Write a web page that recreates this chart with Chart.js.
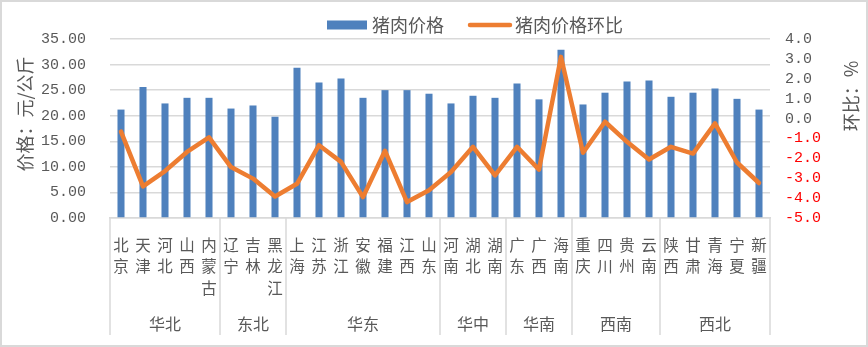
<!DOCTYPE html>
<html lang="zh-CN">

<head>
    <meta charset="UTF-8">
    <meta name="viewport" content="width=device-width, initial-scale=1.0">
    <title>猪肉价格</title>
    <script src="https://cdn.jsdelivr.net/npm/chart.js@4.4.0/dist/chart.umd.min.js"></script>
    <style>
        html, body { margin: 0; padding: 0; background: #fff; }
        #wrap { width: 868px; height: 347px; }
    </style>
</head>

<body>
    <div id="wrap"><canvas id="priceChart" width="868" height="347"></canvas></div>

    <script>
        var provinces = ['北京', '天津', '河北', '山西', '内蒙古', '辽宁', '吉林', '黑龙江',
            '上海', '江苏', '浙江', '安徽', '福建', '江西', '山东', '河南', '湖北', '湖南',
            '广东', '广西', '海南', '重庆', '四川', '贵州', '云南', '陕西', '甘肃', '青海', '宁夏', '新疆'];
        var regions = ['华北', '东北', '华东', '华中', '华南', '西南', '西北'];
        var regionSizes = [5, 3, 7, 3, 3, 4, 5];
        var prices = [21.2, 25.6, 22.4, 23.5, 23.5, 21.4, 22.0, 19.8, 29.4, 26.5, 27.3, 23.5, 25.0, 25.0, 24.3,
            22.4, 23.9, 23.5, 26.3, 23.2, 32.9, 22.2, 24.5, 26.7, 26.9, 23.7, 24.5, 25.3, 23.3, 21.2];
        var momChange = [-0.66, -3.41, -2.64, -1.68, -0.95, -2.44, -3.02, -3.92, -3.28, -1.34, -2.18, -3.95, -1.62, -4.2, -3.6,
            -2.69, -1.42, -2.86, -1.42, -2.57, 3.1, -1.72, -0.16, -1.17, -2.06, -1.42, -1.76, -0.24, -2.21, -3.24];

        var gray = '#595959';
        var lineGray = '#d9d9d9';
        var blue = '#4f81bd';
        var orange = '#ed7d31';
        var cjk = '"Noto Sans CJK SC", "Noto Sans", sans-serif';
        var mono = '"Liberation Mono", "DejaVu Sans Mono", monospace';

        // region row under the province names, axis titles, legend and frame
        var extras = {
            id: 'extras',
            afterDraw: function (chart) {
                var ctx = chart.ctx;
                var area = chart.chartArea;
                var w = (area.right - area.left) / provinces.length;

                ctx.save();
                ctx.strokeStyle = lineGray;
                ctx.lineWidth = 1.5;
                ctx.fillStyle = gray;
                ctx.font = '16px ' + cjk;
                ctx.textAlign = 'center';
                ctx.textBaseline = 'middle';

                var start = 0;
                for (var i = 0; i <= regions.length; i++) {
                    var px = area.left + start * w;
                    ctx.beginPath();
                    ctx.moveTo(px, area.bottom);
                    ctx.lineTo(px, 335);
                    ctx.stroke();
                    if (i < regions.length) {
                        ctx.fillText(regions[i], px + regionSizes[i] * w / 2, 324);
                        start += regionSizes[i];
                    }
                }

                // axis titles
                ctx.font = '18px ' + cjk;
                ctx.save();
                ctx.translate(25, 114);
                ctx.rotate(-Math.PI / 2);
                ctx.fillText('价格：元/公斤', 0, 0);
                ctx.restore();
                ctx.save();
                ctx.translate(851, 96);
                ctx.rotate(-Math.PI / 2);
                ctx.fillText('环比：%', 0, 0);
                ctx.restore();

                // legend
                ctx.textAlign = 'left';
                ctx.fillStyle = blue;
                ctx.fillRect(327, 20.5, 40, 9);
                ctx.fillStyle = gray;
                ctx.fillText(chart.data.datasets[0].label, 372, 25);
                ctx.strokeStyle = orange;
                ctx.lineWidth = 4.5;
                ctx.lineCap = 'round';
                ctx.beginPath();
                ctx.moveTo(470, 25);
                ctx.lineTo(510, 25);
                ctx.stroke();
                ctx.fillText(chart.data.datasets[1].label, 515, 25);

                ctx.strokeStyle = lineGray;
                ctx.lineWidth = 2;
                ctx.lineCap = 'butt';
                ctx.strokeRect(1, 1, 866, 345);
                ctx.restore();
            }
        };

        var ctx = document.getElementById('priceChart').getContext('2d');
        var priceChart = new Chart(ctx, {
            type: 'bar',
            data: {
                labels: provinces.map(function (p) { return p.split(''); }),
                datasets: [{
                    type: 'bar',
                    label: '猪肉价格',
                    data: prices,
                    yAxisID: 'y',
                    backgroundColor: blue,
                    barPercentage: 0.32,
                    categoryPercentage: 1,
                    order: 2
                }, {
                    type: 'line',
                    label: '猪肉价格环比',
                    data: momChange,
                    yAxisID: 'y1',
                    borderColor: orange,
                    borderWidth: 4.5,
                    borderJoinStyle: 'round',
                    borderCapStyle: 'round',
                    pointRadius: 0,
                    tension: 0,
                    order: 1
                }]
            },
            options: {
                responsive: false,
                animation: false,
                layout: { padding: { top: 39, left: 0, right: 0, bottom: 0 } },
                plugins: {
                    legend: { display: false },
                    tooltip: { enabled: false }
                },
                scales: {
                    x: {
                        grid: { display: false, drawTicks: false },
                        border: { display: true, color: lineGray, width: 1.5 },
                        ticks: {
                            color: gray,
                            font: { family: cjk, size: 15.5, lineHeight: 1.4 },
                            padding: 16,
                            maxRotation: 0,
                            minRotation: 0,
                            autoSkip: false
                        },
                        afterFit: function (scale) { scale.height = 129; }
                    },
                    y: {
                        position: 'left',
                        min: 0,
                        max: 35,
                        grid: { color: lineGray, lineWidth: 1.5, drawTicks: false },
                        border: { display: false },
                        ticks: {
                            stepSize: 5,
                            autoSkip: false,
                            color: gray,
                            padding: 24,
                            font: { family: mono, size: 15 },
                            callback: function (v) { return v.toFixed(2); }
                        },
                        afterFit: function (scale) { scale.width = 110; }
                    },
                    y1: {
                        position: 'right',
                        min: -5,
                        max: 4,
                        grid: { display: false, drawTicks: false },
                        border: { display: false },
                        ticks: {
                            stepSize: 1,
                            autoSkip: false,
                            padding: 15,
                            font: { family: mono, size: 15 },
                            color: function (c) { return c.tick && c.tick.value < 0 ? '#ff0000' : gray; },
                            callback: function (v) { return v.toFixed(1); }
                        },
                        afterFit: function (scale) { scale.width = 98; }
                    }
                }
            },
            plugins: [extras]
        });
    </script>
</body>

</html>
